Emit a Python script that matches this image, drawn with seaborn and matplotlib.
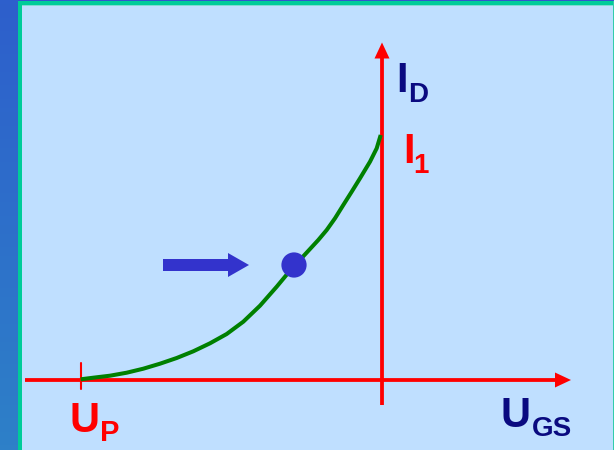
import numpy as np
import pandas as pd
import matplotlib
matplotlib.use("Agg")
import matplotlib.pyplot as plt
from matplotlib.patches import FancyArrow, Rectangle
import seaborn as sns

# Transfer characteristic curve (figure-pixel style coordinates, y downwards)
curve_x = [80.7, 93.3, 110, 126.7, 143.3, 160, 176.7, 193.3, 210, 226.7, 243.3,
           260, 276.7, 285, 293.3, 301.7, 310, 318.3, 326.7, 335, 343.3, 351.7,
           360, 370, 376.7, 380.7]
curve_y = [379.3, 377.7, 375.7, 372.7, 368.7, 363.7, 358, 351.3, 343.3, 334, 321.7,
           305.7, 286.7, 276.7, 266.7, 258, 249, 240, 230, 218.3, 205, 191.7,
           178.3, 161.7, 148.3, 135]
point_x = [294]
point_y = [265]
labels = ["I", "D", "I", "1", "U", "P", "U", "GS"]

sns.set_theme(style="white")
plt.rcParams['font.family'] = ['Liberation Sans', 'DejaVu Sans']

fig = plt.figure(figsize=(6.14, 4.5), dpi=100)
fig.patch.set_facecolor("#BFDFFF")
ax = fig.add_axes([0, 0, 1, 1])
ax.set_facecolor("#BFDFFF")
ax.set_xlim(0, 614)
ax.set_ylim(450, 0)
ax.axis("off")

# Frame: left blue gradient strip, teal borders
grad = np.linspace(0, 1, 100).reshape(-1, 1)
cmap = matplotlib.colors.LinearSegmentedColormap.from_list("g", ["#2D5FCC", "#2E80C8"])
ax.imshow(grad, cmap=cmap, extent=[0, 18, 450, 0], aspect="auto", zorder=1)
ax.add_patch(Rectangle((18, 0), 596, 1.4, color="#3355CC", zorder=2, lw=0))
ax.add_patch(Rectangle((18, 1.4), 596, 3.8, color="#00CC99", zorder=2, lw=0))
ax.add_patch(Rectangle((22, 5.2), 592, 1.0, color="#7FDDD0", zorder=2, lw=0))
ax.add_patch(Rectangle((18, 1.4), 4.3, 450, color="#00CC99", zorder=2, lw=0))
ax.add_patch(Rectangle((612.5, 1.4), 2, 450, color="#33CCAA", zorder=2, lw=0))

red = "#FF0000"
# Axes arrows
ax.add_patch(FancyArrow(25, 380, 546, 0, width=3.8, head_width=15, head_length=16,
                        length_includes_head=True, color=red, lw=0, zorder=3))
ax.add_patch(FancyArrow(382, 405, 0, -362.5, width=3.8, head_width=15, head_length=16,
                        length_includes_head=True, color=red, lw=0, zorder=3))
ax.plot([80.5, 80.5], [362.5, 388.5], color=red, lw=1.5, zorder=3)

# Curve and point
df = pd.DataFrame({"x": curve_x, "y": curve_y})
sns.lineplot(data=df, x="x", y="y", sort=False, color="#008000", lw=2.9, ax=ax, zorder=4,
             solid_joinstyle="round", solid_capstyle="butt")
sns.scatterplot(x=point_x, y=point_y, color="#3333CC", s=330, edgecolor="none", ax=ax, zorder=5)
ax.set_xlim(0, 614)
ax.set_ylim(450, 0)
ax.axis("off")

# Blue arrow
ax.add_patch(FancyArrow(163, 265, 86, 0, width=12, head_width=24, head_length=21,
                        length_includes_head=True, color="#3333CC", lw=0, zorder=5))

navy = "#0A0A80"
big, small = 30, 20
ax.text(396, 92, labels[0], color=navy, fontsize=big, fontweight="bold", va="baseline", ha="left")
ax.text(408.5, 102, labels[1], color=navy, fontsize=small, fontweight="bold", va="baseline", ha="left")
ax.text(403, 163, labels[2], color=red, fontsize=big, fontweight="bold", va="baseline", ha="left")
ax.text(413, 173, labels[3], color=red, fontsize=small, fontweight="bold", va="baseline", ha="left")
ax.text(69.5, 432, labels[4], color=red, fontsize=big, fontweight="bold", va="baseline", ha="left")
ax.text(100.5, 441, labels[5], color=red, fontsize=21, fontweight="bold", va="baseline", ha="left")
ax.text(500.5, 427, labels[6], color=navy, fontsize=big, fontweight="bold", va="baseline", ha="left")
ax.text(531.5, 436, labels[7], color=navy, fontsize=small, fontweight="bold", va="baseline", ha="left")

fig.savefig("out.png", dpi=100, facecolor=fig.get_facecolor())
